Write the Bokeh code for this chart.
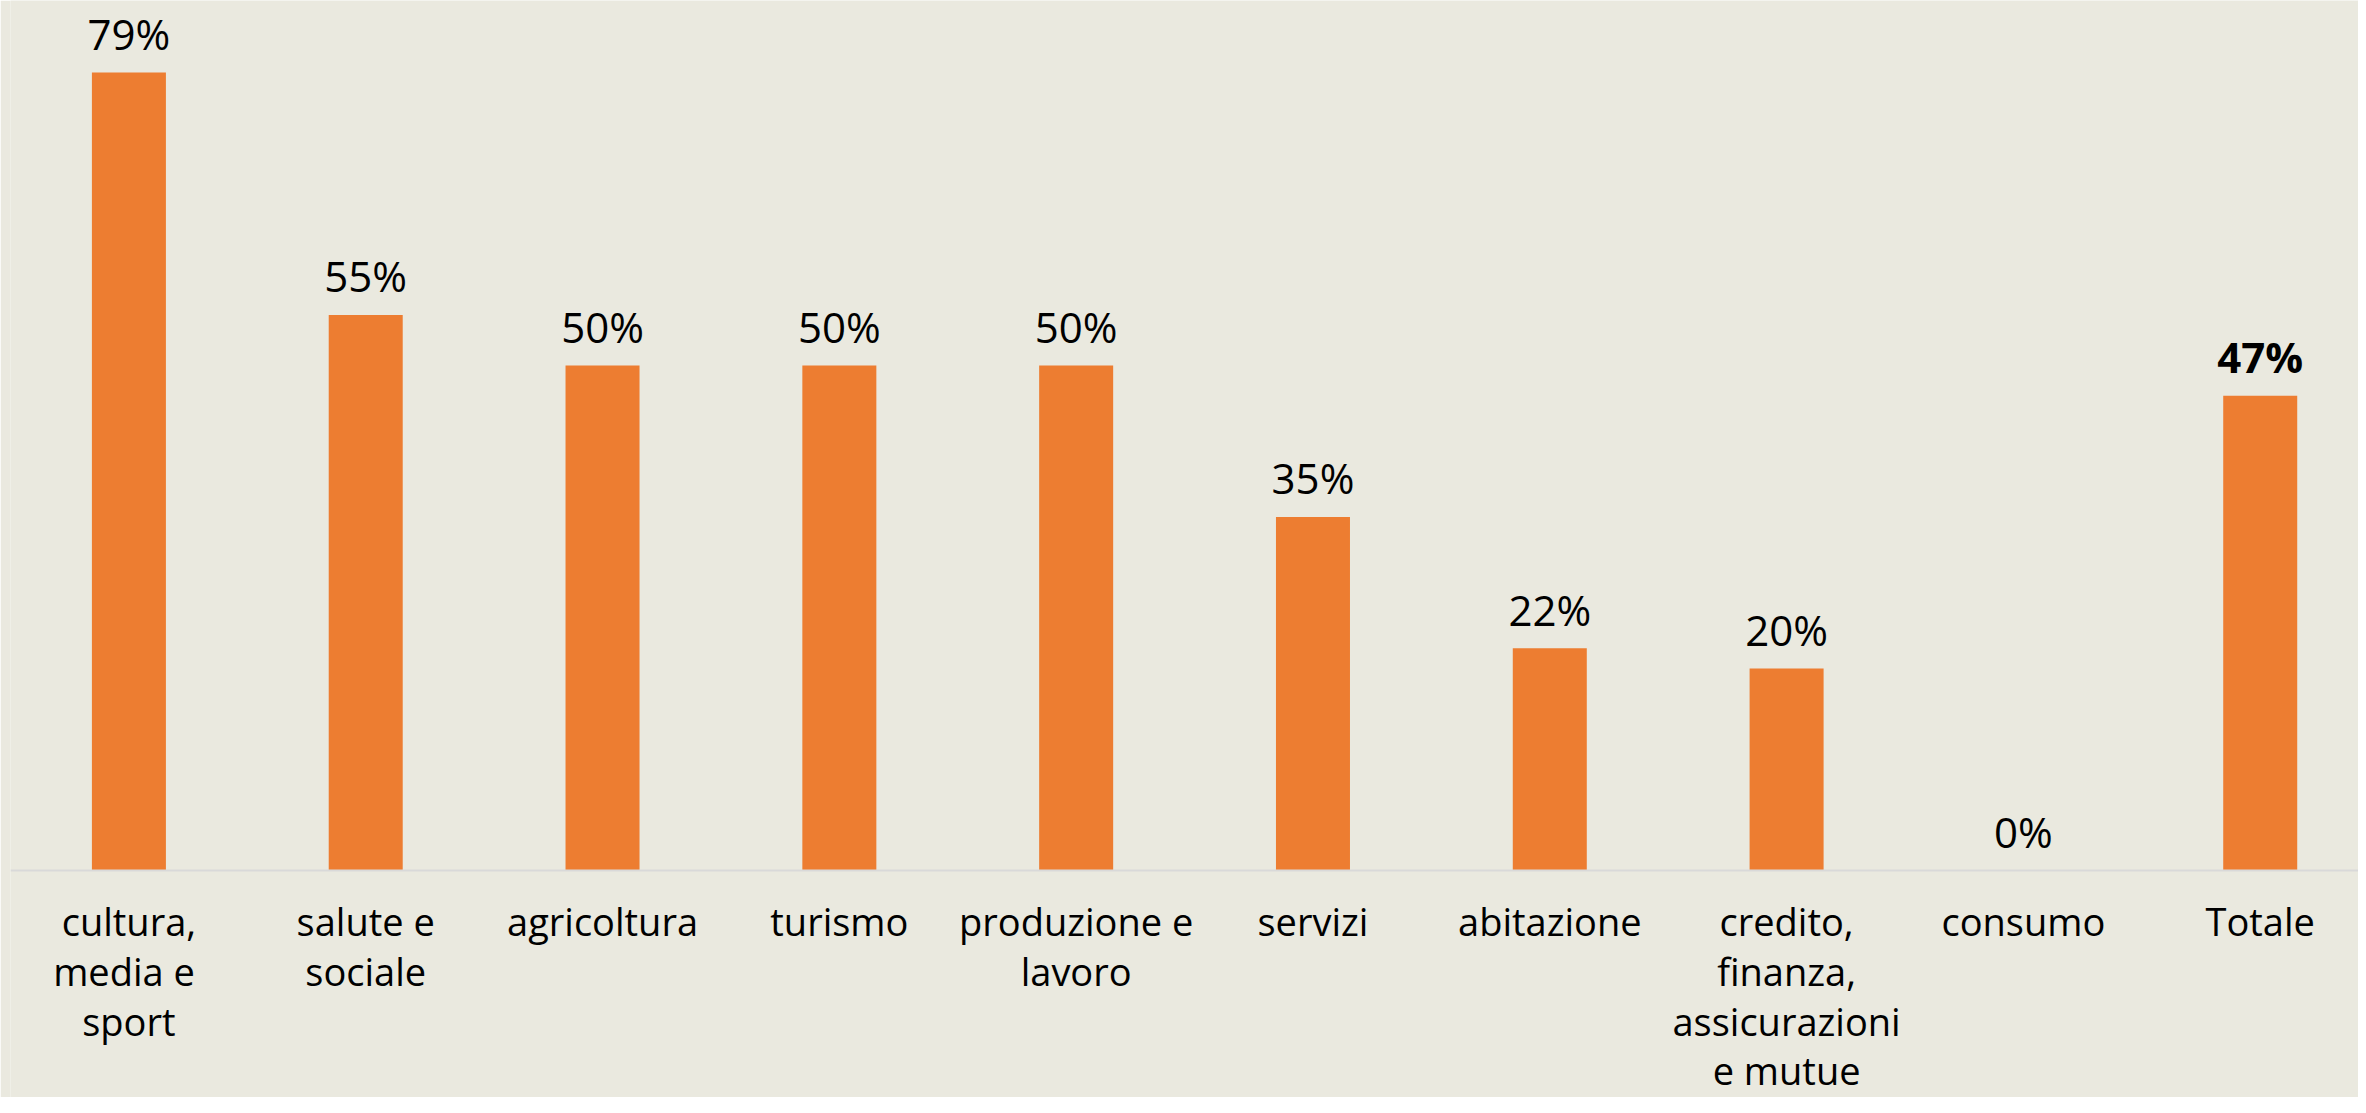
from bokeh.plotting import figure
from bokeh.models import Range1d, ColumnDataSource, Span
from bokeh.core.properties import value
from bokeh.embed import file_html
from bokeh.resources import INLINE

categories = ["cultura,\nmedia  e\nsport", "salute e\nsociale", "agricoltura", "turismo",
              "produzione e\nlavoro", "servizi", "abitazione",
              "credito,\nfinanza,\nassicurazioni\ne mutue", "consumo", "Totale"]
values = [79, 55, 50, 50, 50, 35, 22, 20, 0, 47]

BG = "#EAE9DF"
ORANGE = "#ED7D31"
FONT = "Open Sans"

xs = list(range(len(categories)))
labels = [f"{v}%" for v in values]

src_main = ColumnDataSource(dict(x=xs[:-1], top=values[:-1], lab=labels[:-1]))
src_tot = ColumnDataSource(dict(x=xs[-1:], top=values[-1:], lab=labels[-1:]))
src_cat = ColumnDataSource(dict(x=xs, y=[0] * len(xs), cat=categories))

p = figure(width=2358, height=1097, output_backend="svg", toolbar_location=None,
           x_range=Range1d(-0.5, 9.415), y_range=Range1d(-22.48, 86.14),
           min_border_left=10, min_border_right=0, min_border_top=0, min_border_bottom=0)
p.background_fill_color = BG
p.border_fill_color = BG
p.outline_line_color = None
p.grid.visible = False
p.xaxis.visible = False
p.yaxis.visible = False

p.add_layout(Span(location=0, dimension="width", line_color="#D9D9D9", line_width=2))

p.vbar(x=xs, top=values, width=0.3125, bottom=0, fill_color=ORANGE, line_color=None)

p.text(x="x", y="top", text="lab", source=src_main, text_align="center",
       text_baseline="alphabetic", y_offset=-39, text_font=value(FONT),
       text_font_size="42px", text_color="#000000")
p.text(x="x", y="top", text="lab", source=src_tot, text_align="center",
       text_baseline="alphabetic", y_offset=-39, text_font=value(FONT),
       text_font_size="42px", text_font_style="bold", text_color="#000000")

p.text(x="x", y="y", text="cat", source=src_cat, text_align="center",
       text_baseline="top", y_offset=25, text_font=value(FONT),
       text_font_size="38px", text_color="#000000", text_line_height=0.955)

open("out.html", "w").write(file_html(p, INLINE))
